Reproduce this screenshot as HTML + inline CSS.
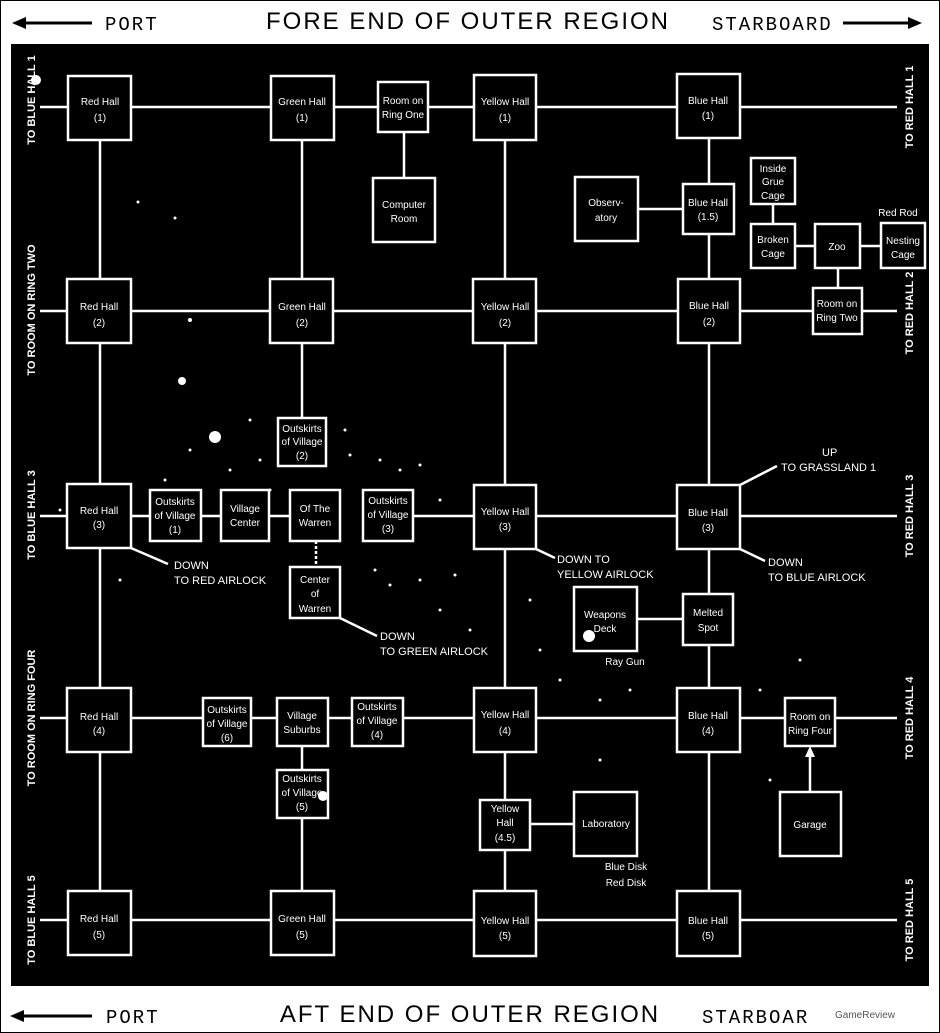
<!DOCTYPE html>
<html><head><meta charset="utf-8"><style>
html,body{margin:0;padding:0;background:#fff;}
svg{display:block;}
text{font-family:"Liberation Sans",sans-serif;fill:#fff;}
.b{fill:#000;stroke:#fff;stroke-width:2.5;}
.l{stroke:#fff;stroke-width:2.5;fill:none;}
.t{font-size:10px;text-anchor:middle;}
.s{font-size:11px;}
.h{font-family:"Liberation Mono",monospace;fill:#000;}
.ti{font-family:"Liberation Sans",sans-serif;fill:#000;font-size:24px;letter-spacing:2px;text-anchor:middle;}
</style></head><body>
<svg width="940" height="1033" viewBox="0 0 940 1033" xmlns="http://www.w3.org/2000/svg">
<rect x="0" y="0" width="940" height="1033" fill="#fff"/>
<rect x="0.5" y="0.5" width="939" height="1032" fill="none" stroke="#000" stroke-width="1"/>
<line x1="20" y1="23" x2="92" y2="23" stroke="#000" stroke-width="3"/>
<polygon points="12,23 26,17 26,29" fill="#000"/>
<text class="h" x="105" y="30" style="font-size:19px;letter-spacing:2px">PORT</text>
<text class="ti" x="468" y="29">FORE END OF OUTER REGION</text>
<text class="h" x="712" y="30" style="font-size:19px;letter-spacing:2px">STARBOARD</text>
<line x1="843" y1="23" x2="912" y2="23" stroke="#000" stroke-width="3"/>
<polygon points="922,23 908,17 908,29" fill="#000"/>
<line x1="18" y1="1016" x2="92" y2="1016" stroke="#000" stroke-width="3"/>
<polygon points="10,1016 24,1010 24,1022" fill="#000"/>
<text class="h" x="106" y="1023" style="font-size:19px;letter-spacing:2px">PORT</text>
<text class="ti" x="470" y="1022">AFT END OF OUTER REGION</text>
<text class="h" x="702" y="1023" style="font-size:19px;letter-spacing:2px">STARBOAR</text>
<text x="835" y="1018" style="font-size:10px;fill:#555">GameReview</text>

<rect x="11" y="44" width="918" height="942" fill="#000"/>

<g fill="#fff">
<circle cx="182" cy="381" r="4"/><circle cx="215" cy="437" r="6"/><circle cx="36" cy="80" r="5"/>
<circle cx="190" cy="320" r="2"/><circle cx="138" cy="202" r="1.5"/><circle cx="175" cy="218" r="1.5"/>
<circle cx="250" cy="420" r="1.5"/><circle cx="260" cy="460" r="1.5"/><circle cx="230" cy="470" r="1.5"/>
<circle cx="190" cy="450" r="1.5"/><circle cx="350" cy="455" r="1.5"/><circle cx="380" cy="460" r="1.5"/>
<circle cx="400" cy="470" r="1.5"/><circle cx="420" cy="465" r="1.5"/><circle cx="440" cy="500" r="1.5"/>
<circle cx="375" cy="570" r="1.5"/><circle cx="390" cy="585" r="1.5"/><circle cx="420" cy="580" r="1.5"/>
<circle cx="455" cy="575" r="1.5"/><circle cx="440" cy="610" r="1.5"/><circle cx="470" cy="630" r="1.5"/>
<circle cx="530" cy="600" r="1.5"/><circle cx="540" cy="650" r="1.5"/><circle cx="560" cy="680" r="1.5"/>
<circle cx="600" cy="700" r="1.5"/><circle cx="630" cy="690" r="1.5"/><circle cx="120" cy="580" r="1.5"/>
<circle cx="80" cy="530" r="1.5"/><circle cx="60" cy="510" r="1.5"/><circle cx="600" cy="760" r="1.5"/>
<circle cx="770" cy="780" r="1.5"/><circle cx="760" cy="690" r="1.5"/><circle cx="800" cy="660" r="1.5"/>
<circle cx="165" cy="480" r="1.5"/><circle cx="270" cy="490" r="1.5"/><circle cx="345" cy="430" r="1.5"/>
</g>

<g class="l">
<line x1="40" y1="107" x2="897" y2="107"/>
<line x1="40" y1="311" x2="897" y2="311"/>
<line x1="40" y1="516" x2="340" y2="516"/>
<line x1="413" y1="516" x2="897" y2="516"/>
<line x1="40" y1="718" x2="897" y2="718"/>
<line x1="40" y1="920" x2="897" y2="920"/>
<line x1="100" y1="140" x2="100" y2="891"/>
<line x1="302" y1="140" x2="302" y2="418"/>
<line x1="302" y1="746" x2="302" y2="891"/>
<line x1="404" y1="132" x2="404" y2="178"/>
<line x1="505" y1="140" x2="505" y2="891"/>
<line x1="709" y1="138" x2="709" y2="891"/>
<line x1="638" y1="209" x2="683" y2="209"/>
<line x1="773" y1="204" x2="773" y2="224"/>
<line x1="795" y1="246" x2="881" y2="246"/>
<line x1="838" y1="268" x2="838" y2="288"/>
<line x1="637" y1="619" x2="683" y2="619"/>
<line x1="530" y1="824" x2="574" y2="824"/>
<line x1="810" y1="792" x2="810" y2="756"/>
<line x1="131" y1="548" x2="168" y2="564"/>
<line x1="340" y1="618" x2="377" y2="636"/>
<line x1="536" y1="549" x2="555" y2="558"/>
<line x1="740" y1="549" x2="765" y2="561"/>
<line x1="740" y1="485" x2="777" y2="466"/>
</g>
<polygon points="810,746 805,757 815,757" fill="#fff"/>
<line x1="316" y1="541" x2="316" y2="567" stroke="#fff" stroke-width="2.5" stroke-dasharray="3,2"/>

<g>
<rect class="b" x="68" y="76" width="63" height="64"/>
<rect class="b" x="271" y="76" width="63" height="64"/>
<rect class="b" x="378" y="82" width="50" height="50"/>
<rect class="b" x="474" y="75" width="62" height="65"/>
<rect class="b" x="677" y="74" width="63" height="64"/>
<rect class="b" x="373" y="178" width="62" height="64"/>
<rect class="b" x="575" y="177" width="63" height="64"/>
<rect class="b" x="683" y="184" width="51" height="50"/>
<rect class="b" x="751" y="158" width="44" height="46"/>
<rect class="b" x="751" y="224" width="44" height="44"/>
<rect class="b" x="815" y="224" width="45" height="44"/>
<rect class="b" x="881" y="223" width="44" height="45"/>
<rect class="b" x="813" y="288" width="49" height="46"/>
<rect class="b" x="67" y="279" width="64" height="64"/>
<rect class="b" x="270" y="279" width="63" height="64"/>
<rect class="b" x="473" y="279" width="63" height="64"/>
<rect class="b" x="678" y="279" width="62" height="64"/>
<rect class="b" x="278" y="418" width="48" height="48"/>
<rect class="b" x="67" y="484" width="64" height="64"/>
<rect class="b" x="150" y="490" width="51" height="51"/>
<rect class="b" x="221" y="490" width="48" height="51"/>
<rect class="b" x="290" y="490" width="50" height="51"/>
<rect class="b" x="363" y="490" width="50" height="51"/>
<rect class="b" x="474" y="485" width="62" height="64"/>
<rect class="b" x="677" y="485" width="63" height="64"/>
<rect class="b" x="290" y="567" width="50" height="51"/>
<rect class="b" x="574" y="587" width="63" height="64"/>
<rect class="b" x="683" y="594" width="50" height="51"/>
<rect class="b" x="67" y="688" width="64" height="64"/>
<rect class="b" x="203" y="698" width="48" height="48"/>
<rect class="b" x="277" y="698" width="51" height="48"/>
<rect class="b" x="352" y="698" width="51" height="48"/>
<rect class="b" x="474" y="688" width="62" height="64"/>
<rect class="b" x="677" y="688" width="63" height="64"/>
<rect class="b" x="785" y="698" width="50" height="48"/>
<rect class="b" x="277" y="770" width="51" height="48"/>
<rect class="b" x="480" y="800" width="50" height="50"/>
<rect class="b" x="574" y="792" width="63" height="64"/>
<rect class="b" x="780" y="792" width="61" height="64"/>
<rect class="b" x="68" y="891" width="63" height="64"/>
<rect class="b" x="271" y="891" width="63" height="64"/>
<rect class="b" x="474" y="891" width="62" height="65"/>
<rect class="b" x="677" y="891" width="63" height="65"/>
</g>
<circle cx="589" cy="636" r="6" fill="#fff"/>
<circle cx="323" cy="796" r="5" fill="#fff"/>

<g class="t">
<text x="100" y="105">Red Hall</text><text x="100" y="121">(1)</text>
<text x="302" y="105">Green Hall</text><text x="302" y="121">(1)</text>
<text x="403" y="104">Room on</text><text x="403" y="118">Ring One</text>
<text x="505" y="105">Yellow Hall</text><text x="505" y="121">(1)</text>
<text x="708" y="104">Blue Hall</text><text x="708" y="119">(1)</text>
<text x="404" y="208">Computer</text><text x="404" y="222">Room</text>
<text x="606" y="206">Observ-</text><text x="606" y="221">atory</text>
<text x="708" y="206">Blue Hall</text><text x="708" y="220">(1.5)</text>
<text x="773" y="172">Inside</text><text x="773" y="185">Grue</text><text x="773" y="199">Cage</text>
<text x="773" y="243">Broken</text><text x="773" y="257">Cage</text>
<text x="837" y="250">Zoo</text>
<text x="903" y="244">Nesting</text><text x="903" y="258">Cage</text>
<text x="837" y="307">Room on</text><text x="837" y="321">Ring Two</text>
<text x="99" y="310">Red Hall</text><text x="99" y="326">(2)</text>
<text x="302" y="310">Green Hall</text><text x="302" y="326">(2)</text>
<text x="505" y="310">Yellow Hall</text><text x="505" y="326">(2)</text>
<text x="709" y="309">Blue Hall</text><text x="709" y="325">(2)</text>
<text x="302" y="432">Outskirts</text><text x="302" y="445">of Village</text><text x="302" y="459">(2)</text>
<text x="99" y="514">Red Hall</text><text x="99" y="528">(3)</text>
<text x="175" y="505">Outskirts</text><text x="175" y="519">of Village</text><text x="175" y="533">(1)</text>
<text x="245" y="512">Village</text><text x="245" y="526">Center</text>
<text x="315" y="512">Of The</text><text x="315" y="526">Warren</text>
<text x="388" y="504">Outskirts</text><text x="388" y="518">of Village</text><text x="388" y="532">(3)</text>
<text x="505" y="515">Yellow Hall</text><text x="505" y="530">(3)</text>
<text x="708" y="516">Blue Hall</text><text x="708" y="531">(3)</text>
<text x="315" y="583">Center</text><text x="315" y="597">of</text><text x="315" y="612">Warren</text>
<text x="605" y="618">Weapons</text><text x="605" y="632">Deck</text>
<text x="708" y="616">Melted</text><text x="708" y="631">Spot</text>
<text x="99" y="720">Red Hall</text><text x="99" y="734">(4)</text>
<text x="227" y="713">Outskirts</text><text x="227" y="727">of Village</text><text x="227" y="741">(6)</text>
<text x="302" y="719">Village</text><text x="302" y="733">Suburbs</text>
<text x="377" y="710">Outskirts</text><text x="377" y="724">of Village</text><text x="377" y="738">(4)</text>
<text x="505" y="718">Yellow Hall</text><text x="505" y="734">(4)</text>
<text x="708" y="719">Blue Hall</text><text x="708" y="734">(4)</text>
<text x="810" y="720">Room on</text><text x="810" y="734">Ring Four</text>
<text x="302" y="782">Outskirts</text><text x="302" y="796">of Village</text><text x="302" y="810">(5)</text>
<text x="505" y="812">Yellow</text><text x="505" y="826">Hall</text><text x="505" y="841">(4.5)</text>
<text x="606" y="827">Laboratory</text>
<text x="810" y="828">Garage</text>
<text x="99" y="922">Red Hall</text><text x="99" y="938">(5)</text>
<text x="302" y="922">Green Hall</text><text x="302" y="938">(5)</text>
<text x="505" y="924">Yellow Hall</text><text x="505" y="939">(5)</text>
<text x="708" y="924">Blue Hall</text><text x="708" y="939">(5)</text>
</g>

<g class="s">
<text x="174" y="569">DOWN</text><text x="174" y="584">TO RED AIRLOCK</text>
<text x="380" y="640">DOWN</text><text x="380" y="655">TO GREEN AIRLOCK</text>
<text x="557" y="563">DOWN TO</text><text x="557" y="578">YELLOW AIRLOCK</text>
<text x="768" y="566">DOWN</text><text x="768" y="581">TO BLUE AIRLOCK</text>
<text x="822" y="456">UP</text><text x="781" y="471">TO GRASSLAND 1</text>
</g>
<g class="t">
<text x="625" y="665">Ray Gun</text>
<text x="626" y="870">Blue Disk</text><text x="626" y="886">Red Disk</text>
<text x="898" y="216">Red Rod</text>
</g>

<g style="font-size:11px;text-anchor:middle;font-weight:bold">
<text transform="translate(35,100) rotate(-90)">TO BLUE HALL 1</text>
<text transform="translate(35,310) rotate(-90)">TO ROOM ON RING TWO</text>
<text transform="translate(35,515) rotate(-90)">TO BLUE HALL 3</text>
<text transform="translate(35,718) rotate(-90)">TO ROOM ON RING FOUR</text>
<text transform="translate(35,920) rotate(-90)">TO BLUE HALL 5</text>
<text transform="translate(913,107) rotate(-90)">TO RED HALL 1</text>
<text transform="translate(913,313) rotate(-90)">TO RED HALL 2</text>
<text transform="translate(913,516) rotate(-90)">TO RED HALL 3</text>
<text transform="translate(913,718) rotate(-90)">TO RED HALL 4</text>
<text transform="translate(913,920) rotate(-90)">TO RED HALL 5</text>
</g>
</svg>
</body></html>
